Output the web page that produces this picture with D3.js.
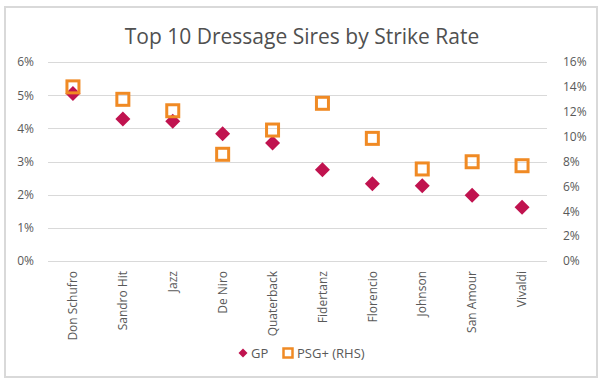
<!DOCTYPE html>
<html><head><meta charset="utf-8">
<script src="https://cdn.jsdelivr.net/npm/d3@7"></script>
<style>body{margin:0;background:#fff}svg{display:block}text{font-family:"Open Sans",sans-serif;fill:#595959}</style>
</head><body><svg id="c" width="604" height="382"></svg>
<script>
const categories = ["Don Schufro","Sandro Hit","Jazz","De Niro","Quaterback","Fidertanz","Florencio","Johnson","San Amour","Vivaldi"];
const gpValues = [0.0505,0.0428,0.0421,0.0384,0.0356,0.0275,0.0233,0.0227,0.0198,0.0162];
const psgValues = [0.140,0.130,0.1208,0.0858,0.1053,0.1268,0.0986,0.0740,0.0798,0.0766];
const leftTicks = [0,0.01,0.02,0.03,0.04,0.05,0.06];
const rightTicks = [0,0.02,0.04,0.06,0.08,0.10,0.12,0.14,0.16];
const title = "Top 10 Dressage Sires by Strike Rate";
const seriesNames = ["GP","PSG+ (RHS)"];
const gpColor = "#C0134F", psgColor = "#F08A24";

const svg = d3.select("#c");
svg.append("rect").attr("x",5).attr("y",7).attr("width",592).attr("height",370)
  .attr("fill","#fff").attr("stroke","#d9d9d9").attr("stroke-width",2);

const L=48, R=547, T=62, B=261;
const x = d3.scaleBand().domain(categories).range([L,R]);
const yL = d3.scaleLinear().domain([0,0.06]).range([B,T]);
const yR = d3.scaleLinear().domain([0,0.16]).range([B,T]);

svg.append("text").attr("x",302).attr("y",44).attr("text-anchor","middle")
  .style("font-size","21px").style("fill","#505050").text(title);

// grid
svg.append("g").selectAll("line").data(leftTicks).join("line")
  .attr("x1",L).attr("x2",R).attr("y1",d=>Math.round(yL(d))+0.5).attr("y2",d=>Math.round(yL(d))+0.5)
  .attr("stroke","#d9d9d9").attr("stroke-width",1);

const fmt = d3.format(".0%");
const gl = svg.append("g").attr("transform",`translate(${L-14},0)`)
  .call(d3.axisLeft(yL).tickValues(leftTicks).tickFormat(fmt).tickSize(0).tickPadding(0));
const gr = svg.append("g").attr("transform",`translate(${R+16},0)`)
  .call(d3.axisRight(yR).tickValues(rightTicks).tickFormat(fmt).tickSize(0).tickPadding(0));
[gl,gr].forEach(g=>{g.select(".domain").remove();g.selectAll("text").style("font-size","12px").attr("fill","#595959");});

const gx = svg.append("g").attr("transform",`translate(0,${B})`)
  .call(d3.axisBottom(x).tickSize(0).tickPadding(0));
gx.select(".domain").remove();
gx.selectAll("text").style("font-size","12px").attr("fill","#595959")
  .attr("text-anchor","end").attr("transform","rotate(-90)")
  .attr("x",-10).attr("y",0).attr("dy","0.35em");

const cx = d=>x(d)+x.bandwidth()/2;
const diamond = s=>`M0,${-s}L${s},0L0,${s}L${-s},0Z`;
svg.append("g").selectAll("path").data(categories).join("path")
  .attr("d",diamond(7.5)).attr("fill",gpColor)
  .attr("transform",(d,i)=>`translate(${cx(d)},${yL(gpValues[i])})`);
svg.append("g").selectAll("rect").data(categories).join("rect")
  .attr("x",(d)=>cx(d)-6).attr("y",(d,i)=>yR(psgValues[i])-6)
  .attr("width",12).attr("height",12).attr("fill","none")
  .attr("stroke",psgColor).attr("stroke-width",3);

// legend
const lg = svg.append("g");
lg.append("path").attr("d",diamond(4.5)).attr("fill",gpColor).attr("transform","translate(243,353)");
lg.append("text").attr("x",251).attr("y",357.5).style("font-size","13px").text(seriesNames[0]);
lg.append("rect").attr("x",283.5).attr("y",348.5).attr("width",9).attr("height",9)
  .attr("fill","none").attr("stroke",psgColor).attr("stroke-width",2.5);
lg.append("text").attr("x",297).attr("y",357.5).style("font-size","13px").text(seriesNames[1]);
</script></body></html>
